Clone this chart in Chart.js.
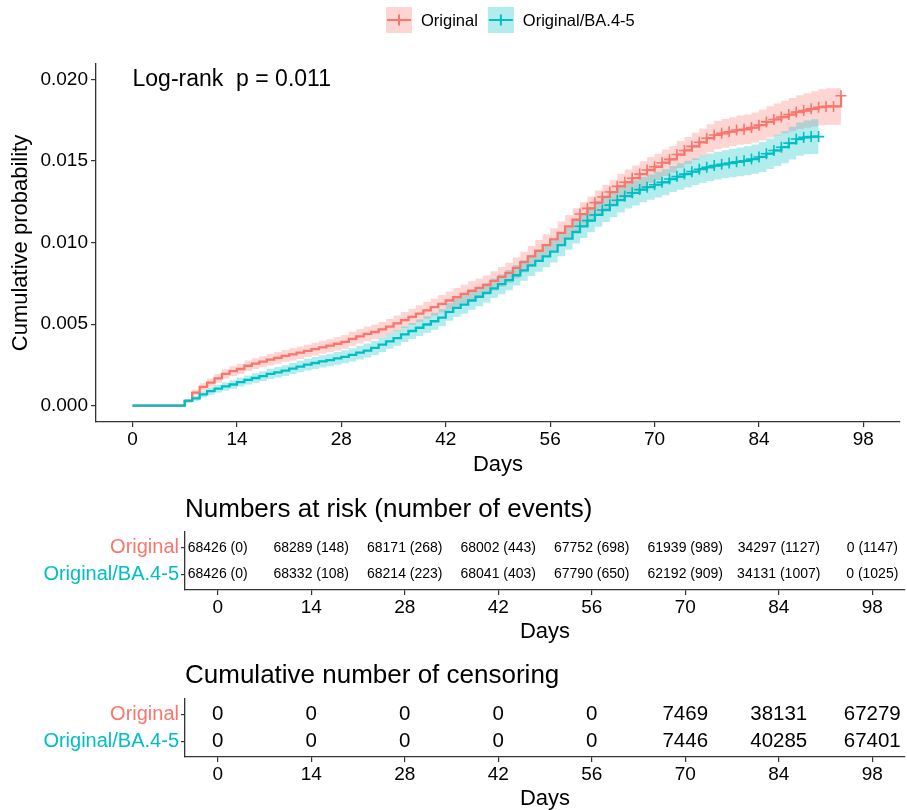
<!DOCTYPE html>
<html>
<head>
<meta charset="utf-8">
<title>Cumulative incidence</title>
<script src="https://cdn.jsdelivr.net/npm/chart.js@4.4.1/dist/chart.umd.min.js"></script>
<style>
  body { margin: 0; background: #fff; }
  #page { position: relative; width: 907px; height: 810px; overflow: hidden; }
  canvas { position: absolute; left: 0; }
</style>
</head>
<body>
<div id="page">
  <canvas id="kmChart" width="907" height="480" style="top:0"></canvas>
  <canvas id="riskChart" width="907" height="160" style="top:485px"></canvas>
  <canvas id="censorChart" width="907" height="165" style="top:645px"></canvas>
</div>
<script>
// groups
const groupNames = ["Original", "Original/BA.4-5"];
const groupColors = ["#F8766D", "#00BFC4"];
const groupFills = ["rgba(248,118,109,0.3)", "rgba(0,191,196,0.3)"];

// cumulative probability, one value per day starting at day 0
const origCum = [
  0, 0, 0, 0, 0, 0, 0,
  0.00030, 0.00080, 0.00115, 0.00142, 0.00168, 0.00195, 0.00212,
  0.00225, 0.00245, 0.00258, 0.00270, 0.00282, 0.00293, 0.00305, 0.00315, 0.00325, 0.00336, 0.00347, 0.00358, 0.00368, 0.00380,
  0.00392, 0.00410, 0.00425, 0.00440, 0.00452, 0.00468, 0.00485, 0.00505, 0.00525, 0.00545, 0.00565, 0.00585, 0.00605, 0.00625,
  0.00645, 0.00665, 0.00685, 0.00705, 0.00722, 0.00740, 0.00765, 0.00790, 0.00815, 0.00845, 0.00880, 0.00915, 0.00950, 0.00985,
  0.01020, 0.01060, 0.01100, 0.01140, 0.01175, 0.01210, 0.01245, 0.01280, 0.01310, 0.01345, 0.01370, 0.01395, 0.01420, 0.01445,
  0.01465, 0.01490, 0.01510, 0.01540, 0.01565, 0.01590, 0.01615, 0.01640, 0.01660, 0.01670, 0.01680, 0.01690, 0.01695, 0.01705,
  0.01720, 0.01740, 0.01755, 0.01770, 0.01785, 0.01800, 0.01810, 0.01820, 0.01830, 0.01835, 0.01835, 0.01900
];
const baCum = [
  0, 0, 0, 0, 0, 0, 0,
  0.00030, 0.00045, 0.00070, 0.00090, 0.00105, 0.00118, 0.00130,
  0.00145, 0.00158, 0.00170, 0.00182, 0.00195, 0.00205, 0.00215, 0.00228, 0.00240, 0.00252, 0.00262, 0.00272, 0.00280, 0.00290,
  0.00300, 0.00312, 0.00325, 0.00338, 0.00355, 0.00375, 0.00395, 0.00415, 0.00438, 0.00458, 0.00478, 0.00498, 0.00518, 0.00540,
  0.00575, 0.00600, 0.00620, 0.00645, 0.00668, 0.00692, 0.00720, 0.00745, 0.00770, 0.00800, 0.00830, 0.00860, 0.00888, 0.00915,
  0.00945, 0.00985, 0.01025, 0.01065, 0.01100, 0.01135, 0.01170, 0.01200, 0.01230, 0.01260, 0.01285, 0.01305, 0.01325, 0.01340,
  0.01355, 0.01370, 0.01390, 0.01405, 0.01420, 0.01435, 0.01450, 0.01462, 0.01472, 0.01480, 0.01488, 0.01495, 0.01502, 0.01512,
  0.01525, 0.01545, 0.01565, 0.01585, 0.01610, 0.01635, 0.01645, 0.01650, 0.01650
];
// half width of the confidence band per day
const origCiHalf = [
  0, 0, 0, 0, 0, 0, 0,
  0.00010, 0.00018, 0.00022, 0.00025, 0.00027, 0.00029, 0.00030,
  0.00031, 0.00032, 0.00033, 0.00034, 0.00035, 0.00036, 0.00036, 0.00037, 0.00038, 0.00038, 0.00039, 0.00040, 0.00040, 0.00041,
  0.00042, 0.00043, 0.00044, 0.00045, 0.00045, 0.00046, 0.00047, 0.00048, 0.00049, 0.00050, 0.00051, 0.00052, 0.00053, 0.00054,
  0.00055, 0.00056, 0.00057, 0.00058, 0.00058, 0.00059, 0.00060, 0.00061, 0.00062, 0.00063, 0.00064, 0.00065, 0.00066, 0.00067,
  0.00068, 0.00069, 0.00070, 0.00071, 0.00072, 0.00073, 0.00074, 0.00075, 0.00076, 0.00077, 0.00078, 0.00078, 0.00079, 0.00080,
  0.00080, 0.00081, 0.00082, 0.00083, 0.00083, 0.00084, 0.00085, 0.00086, 0.00087, 0.00088, 0.00089, 0.00090, 0.00091, 0.00092,
  0.00094, 0.00096, 0.00098, 0.00100, 0.00102, 0.00104, 0.00106, 0.00108, 0.00110, 0.00112, 0.00112, 0.00112
];
const baCiHalf = [
  0, 0, 0, 0, 0, 0, 0,
  0.00010, 0.00015, 0.00019, 0.00022, 0.00024, 0.00025, 0.00026,
  0.00027, 0.00028, 0.00029, 0.00030, 0.00031, 0.00032, 0.00033, 0.00034, 0.00035, 0.00036, 0.00037, 0.00038, 0.00038, 0.00039,
  0.00040, 0.00041, 0.00042, 0.00043, 0.00044, 0.00045, 0.00046, 0.00047, 0.00048, 0.00049, 0.00050, 0.00051, 0.00052, 0.00053,
  0.00054, 0.00055, 0.00056, 0.00057, 0.00058, 0.00059, 0.00060, 0.00061, 0.00062, 0.00063, 0.00064, 0.00065, 0.00066, 0.00066,
  0.00067, 0.00068, 0.00069, 0.00070, 0.00071, 0.00072, 0.00073, 0.00074, 0.00075, 0.00076, 0.00076, 0.00077, 0.00078, 0.00078,
  0.00079, 0.00080, 0.00080, 0.00081, 0.00082, 0.00082, 0.00083, 0.00084, 0.00085, 0.00086, 0.00087, 0.00088, 0.00089, 0.00090,
  0.00092, 0.00094, 0.00096, 0.00098, 0.00100, 0.00102, 0.00104, 0.00106, 0.00107
];
// censoring marks are shown from this day on
const censorFromDay = 60;

const dayTicks = [0, 14, 28, 42, 56, 70, 84, 98];
const probTicks = [0, 0.005, 0.010, 0.015, 0.020];
const pValueText = "Log-rank  p = 0.011";

// risk table
const origAtRisk = [68426, 68289, 68171, 68002, 67752, 61939, 34297, 0];
const origEvents = [0, 148, 268, 443, 698, 989, 1127, 1147];
const baAtRisk = [68426, 68332, 68214, 68041, 67790, 62192, 34131, 0];
const baEvents = [0, 108, 223, 403, 650, 909, 1007, 1025];
// cumulative censoring
const origCensored = [0, 0, 0, 0, 0, 7469, 38131, 67279];
const baCensored = [0, 0, 0, 0, 0, 7446, 40285, 67401];

const FONT = "'Liberation Sans', Arial, sans-serif";
const INK = "#000000";
const AXIS = "#333333";

Chart.defaults.font.family = FONT;
Chart.defaults.color = INK;
Chart.defaults.animation = false;
Chart.defaults.events = [];

const pts = (arr, shift) => arr.map((v, i) => ({ x: i, y: v + (shift ? shift[i] : 0) }));
const neg = arr => arr.map(v => -v);

// legend drawn on top, box + line + cross like ggplot keys
const keyLegend = {
  id: "keyLegend",
  afterDraw(chart, args, opts) {
    const { ctx } = chart;
    let x = opts.x;
    ctx.save();
    ctx.font = "16.5px " + FONT;
    ctx.textBaseline = "middle";
    groupNames.forEach((name, i) => {
      ctx.fillStyle = groupFills[i];
      ctx.fillRect(x, 7, 26, 26);
      ctx.strokeStyle = groupColors[i];
      ctx.lineWidth = 2;
      ctx.beginPath();
      ctx.moveTo(x + 1, 20); ctx.lineTo(x + 25, 20);
      ctx.moveTo(x + 13, 14.5); ctx.lineTo(x + 13, 25.5);
      ctx.stroke();
      ctx.fillStyle = INK;
      ctx.fillText(name, x + 35, 21);
      x += 35 + ctx.measureText(name).width + 10;
    });
    ctx.restore();
  }
};

const pValueLabel = {
  id: "pValueLabel",
  afterDatasetsDraw(chart) {
    const { ctx, scales } = chart;
    ctx.save();
    ctx.font = "23px " + FONT;
    ctx.fillStyle = INK;
    ctx.textBaseline = "middle";
    ctx.fillText(pValueText, scales.x.getPixelForValue(0), scales.y.getPixelForValue(0.020));
    ctx.restore();
  }
};

const mainCtx = document.getElementById("kmChart").getContext("2d");
new Chart(mainCtx, {
  type: "line",
  data: {
    datasets: [
      {
        label: groupNames[1], data: pts(baCum), borderColor: groupColors[1], borderWidth: 2.3,
        stepped: true, fill: false, pointStyle: "cross", pointBorderWidth: 1.6,
        pointBorderColor: groupColors[1],
        pointRadius: c => (c.dataIndex >= censorFromDay ? 5.5 : 0)
      },
      {
        label: groupNames[0], data: pts(origCum), borderColor: groupColors[0], borderWidth: 2.3,
        stepped: true, fill: false, pointStyle: "cross", pointBorderWidth: 1.6,
        pointBorderColor: groupColors[0],
        pointRadius: c => (c.dataIndex >= censorFromDay ? 5.5 : 0)
      },
      { label: "ba upper", data: pts(baCum, baCiHalf), borderWidth: 0, pointRadius: 0, stepped: true,
        fill: "+1", backgroundColor: groupFills[1] },
      { label: "ba lower", data: pts(baCum, neg(baCiHalf)), borderWidth: 0, pointRadius: 0, stepped: true, fill: false },
      { label: "orig upper", data: pts(origCum, origCiHalf), borderWidth: 0, pointRadius: 0, stepped: true,
        fill: "+1", backgroundColor: groupFills[0] },
      { label: "orig lower", data: pts(origCum, neg(origCiHalf)), borderWidth: 0, pointRadius: 0, stepped: true, fill: false }
    ]
  },
  options: {
    responsive: false,
    layout: { padding: { top: 64, right: 5, left: 0, bottom: 0 } },
    plugins: {
      legend: { display: false },
      tooltip: { enabled: false },
      keyLegend: { x: 386 }
    },
    scales: {
      x: {
        type: "linear", min: -4.9, max: 102.9,
        afterBuildTicks: s => { s.ticks = dayTicks.map(v => ({ value: v })); },
        afterFit: s => { s.height = 58; },
        ticks: { font: { size: 19 }, color: INK, padding: 1, maxRotation: 0 },
        grid: { display: true, drawOnChartArea: false, drawTicks: true, tickLength: 5, color: AXIS, lineWidth: 1.2 },
        border: { display: true, color: AXIS, width: 1.3 },
        title: { display: true, text: "Days", font: { size: 22, lineHeight: 1 }, color: INK, padding: { top: 0, bottom: 4 } }
      },
      y: {
        type: "linear", min: -0.000998, max: 0.02095,
        afterBuildTicks: s => { s.ticks = probTicks.map(v => ({ value: v })); },
        afterFit: s => { s.width = 96; },
        ticks: { font: { size: 19 }, color: INK, padding: 3, callback: v => v.toFixed(3) },
        grid: { display: true, drawOnChartArea: false, drawTicks: true, tickLength: 5, color: AXIS, lineWidth: 1.2 },
        border: { display: true, color: AXIS, width: 1.3 },
        title: { display: true, text: "Cumulative probability", font: { size: 22 }, color: INK, padding: { top: 8, bottom: 0 } }
      }
    }
  },
  plugins: [keyLegend, pValueLabel]
});

// text cells of a table, drawn at the scale positions of their points
const cellText = {
  id: "cellText",
  afterDatasetsDraw(chart, args, opts) {
    const { ctx } = chart;
    ctx.save();
    ctx.font = opts.size + "px " + FONT;
    ctx.fillStyle = INK;
    ctx.textAlign = "center";
    ctx.textBaseline = "middle";
    chart.data.datasets.forEach((ds, di) => {
      chart.getDatasetMeta(di).data.forEach((el, i) => {
        ctx.fillText(ds.data[i].text, el.x, el.y);
      });
    });
    ctx.restore();
  }
};

const panelTitle = {
  id: "panelTitle",
  afterDraw(chart, args, opts) {
    const { ctx, chartArea } = chart;
    ctx.save();
    ctx.font = opts.size + "px " + FONT;
    ctx.fillStyle = INK;
    ctx.textBaseline = "middle";
    ctx.fillText(opts.text, chartArea.left, opts.y);
    ctx.restore();
  }
};

function tableChart(id, title, rows, cellSize, pad, axisHeight, titleY, titlePad) {
  return new Chart(document.getElementById(id).getContext("2d"), {
    type: "scatter",
    data: {
      datasets: rows.map((texts, r) => ({
        data: dayTicks.map((d, i) => ({ x: d, y: r + 1, text: texts[i] })),
        pointRadius: 0
      }))
    },
    options: {
      responsive: false,
      layout: { padding: { top: pad, right: 2, left: 0, bottom: 0 } },
      plugins: {
        legend: { display: false },
        tooltip: { enabled: false },
        cellText: { size: cellSize },
        panelTitle: { text: title, size: 26, y: titleY }
      },
      scales: {
        x: {
          type: "linear", min: -4.9, max: 102.9,
          afterBuildTicks: s => { s.ticks = dayTicks.map(v => ({ value: v })); },
          afterFit: s => { s.height = axisHeight; },
          ticks: { font: { size: 19 }, color: INK, padding: 1, maxRotation: 0 },
          grid: { display: true, drawOnChartArea: false, drawTicks: true, tickLength: 5, color: AXIS, lineWidth: 1.2 },
          border: { display: true, color: AXIS, width: 1.3 },
          title: { display: true, text: "Days", font: { size: 22, lineHeight: 1 }, color: INK, padding: { top: 0, bottom: titlePad } }
        },
        y: {
          type: "linear", min: 0.4, max: 2.6, reverse: true,
          afterBuildTicks: s => { s.ticks = [1, 2].map(v => ({ value: v })); },
          afterFit: s => { s.width = 185; },
          ticks: {
            font: { size: 20 }, padding: 2,
            color: c => groupColors[c.index],
            callback: v => groupNames[v - 1]
          },
          grid: { display: true, drawOnChartArea: false, drawTicks: true, tickLength: 4, color: AXIS, lineWidth: 1.2 },
          border: { display: true, color: AXIS, width: 1.3 }
        }
      }
    },
    plugins: [cellText, panelTitle]
  });
}

tableChart("riskChart", "Numbers at risk (number of events)", [
  origAtRisk.map((n, i) => n + " (" + origEvents[i] + ")"),
  baAtRisk.map((n, i) => n + " (" + baEvents[i] + ")")
], 14, 47, 55, 25, 2);

tableChart("censorChart", "Cumulative number of censoring", [
  origCensored.map(String),
  baCensored.map(String)
], 20.5, 54, 53, 31, 0);
</script>
</body>
</html>
